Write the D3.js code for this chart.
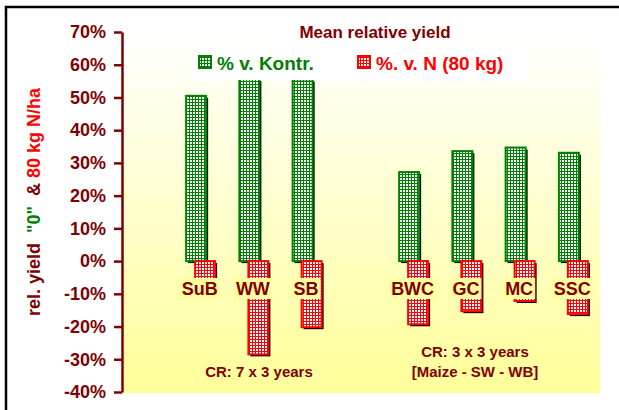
<!DOCTYPE html>
<html>
<head>
<meta charset="utf-8">
<script src="https://cdn.jsdelivr.net/npm/d3@7"></script>
<style>
  body { margin: 0; background: #fff; }
  svg text { font-family: "Liberation Sans", Arial, sans-serif; font-weight: bold; }
</style>
</head>
<body>
<div id="chart"></div>
<script>
// categories (blank slot separates the two crop rotations)
const categories = ["SuB", "WW", "SB", "", "BWC", "GC", "MC", "SSC"];
// % v. Kontr. (relative to unfertilised "0")
const vsControl = [50.5, 55.6, 55.5, null, 27.2, 33.6, 34.7, 33.1];
// %. v. N (80 kg)
const vsN = [-8, -28.5, -20.2, null, -19.3, -15.3, -12.2, -16.2];
const yTicks = [-40, -30, -20, -10, 0, 10, 20, 30, 40, 50, 60, 70];
const seriesNames = ["% v. Kontr.", "%. v. N (80 kg)"];

function drawChart(containerId)
{
    const width = 619;
    const height = 410;
    const plot = { left: 122, right: 600, top: 32, bottom: 393 };
    const maroon = '#800000', green = '#008000', red = '#ff0000';

    const svg = d3.select(containerId)
        .append('svg')
        .attr('width', width)
        .attr('height', height);

    const defs = svg.append('defs');

    // background gradient of the plot area
    const grad = defs.append('linearGradient')
        .attr('id', 'bg').attr('x1', 0).attr('y1', 0).attr('x2', 0).attr('y2', 1);
    grad.append('stop').attr('offset', '0%').attr('stop-color', '#ffffff');
    grad.append('stop').attr('offset', '100%').attr('stop-color', '#ffff99');

    // grid patterns for the bars
    function gridPattern(id, color, size) {
        const p = defs.append('pattern')
            .attr('id', id)
            .attr('patternUnits', 'userSpaceOnUse')
            .attr('width', size).attr('height', size);
        p.append('rect').attr('width', size).attr('height', size).attr('fill', '#fff');
        p.append('rect').attr('width', size).attr('height', 1).attr('fill', color);
        p.append('rect').attr('width', 1).attr('height', size).attr('fill', color);
    }
    gridPattern('gridGreen', green, 3);
    gridPattern('gridRed', red, 3);

    // outer frame
    svg.append('rect')
        .attr('x', 6).attr('y', 7)
        .attr('width', 640).attr('height', 420)
        .attr('fill', 'none').attr('stroke', '#000').attr('stroke-width', 2.5);

    svg.append('rect')
        .attr('x', plot.left).attr('y', plot.top)
        .attr('width', plot.right - plot.left).attr('height', plot.bottom - plot.top)
        .attr('fill', 'url(#bg)');

    // scales
    const x = d3.scaleBand()
        .domain(categories)
        .range([174, plot.right])
        .padding(0);

    const y = d3.scaleLinear()
        .domain([-40, 70])
        .range([392, 32]);

    const cx = c => x(c) + x.bandwidth() / 2;
    const barW = 20;

    const rows = categories.map((c, i) => ({ c, a: vsControl[i], b: vsN[i] }))
        .filter(d => d.c !== '');

    // shadows
    const shadow = svg.append('g').attr('fill', '#000');
    shadow.selectAll('rect.sg')
        .data(rows).enter().append('rect')
        .attr('x', d => cx(d.c) - 14.5 + 2)
        .attr('y', d => y(d.a) + 2)
        .attr('width', barW)
        .attr('height', d => y(0) - y(d.a));
    shadow.selectAll('rect.sr')
        .data(rows).enter().append('rect')
        .attr('x', d => cx(d.c) - 5.5 + 2)
        .attr('y', y(0) + 2)
        .attr('width', barW)
        .attr('height', d => y(d.b) - y(0));

    // green bars
    svg.append('g').selectAll('rect')
        .data(rows).enter().append('rect')
        .attr('x', d => cx(d.c) - 14.5)
        .attr('y', d => y(d.a))
        .attr('width', barW)
        .attr('height', d => y(0) - y(d.a))
        .attr('fill', 'url(#gridGreen)')
        .attr('stroke', green).attr('stroke-width', 2);

    // red bars
    svg.append('g').selectAll('rect')
        .data(rows).enter().append('rect')
        .attr('x', d => cx(d.c) - 5.5)
        .attr('y', y(0))
        .attr('width', barW)
        .attr('height', d => y(d.b) - y(0))
        .attr('fill', 'url(#gridRed)')
        .attr('stroke', red).attr('stroke-width', 2);

    // category labels with yellow boxes
    const labels = svg.append('g');
    rows.forEach(d => {
        const t = labels.append('text')
            .attr('x', cx(d.c) - 1)
            .attr('y', 295)
            .attr('text-anchor', 'middle')
            .attr('font-size', 18)
            .attr('fill', maroon)
            .text(d.c);
        const bb = t.node().getBBox();
        labels.insert('rect', 'text')
            .attr('x', bb.x - 2).attr('y', 278)
            .attr('width', bb.width + 4).attr('height', 21)
            .attr('fill', '#ffffa0');
    });

    // y axis
    const yAxis = d3.axisLeft(y)
        .tickValues(yTicks)
        .tickSize(8)
        .tickSizeOuter(0)
        .tickPadding(8)
        .tickFormat(d => d + '%');
    const ga = svg.append('g')
        .attr('transform', `translate(${plot.left}, 0)`)
        .call(yAxis);
    ga.select('.domain').attr('stroke', maroon).attr('stroke-width', 2.5);
    ga.selectAll('.tick line').attr('stroke', maroon).attr('stroke-width', 2.5);
    ga.selectAll('.tick text')
        .attr('fill', maroon)
        .attr('font-size', 18)
        .attr('font-family', '"Liberation Sans", Arial, sans-serif')
        .attr('font-weight', 'bold');

    // y axis title in three colours
    const yt = svg.append('text')
        .attr('transform', 'translate(40, 202) rotate(-90)')
        .attr('text-anchor', 'middle')
        .attr('font-size', 18)
        .attr('xml:space', 'preserve');
    yt.append('tspan').attr('fill', maroon).text('rel. yield  ');
    yt.append('tspan').attr('fill', green).text('"0"');
    yt.append('tspan').attr('fill', maroon).text('  & ');
    yt.append('tspan').attr('fill', red).text('80 kg N/ha');

    // title
    svg.append('text')
        .attr('x', 375).attr('y', 38)
        .attr('text-anchor', 'middle')
        .attr('font-size', 17)
        .attr('fill', maroon)
        .text('Mean relative yield');

    // legend
    svg.append('rect')
        .attr('x', 190).attr('y', 47).attr('width', 337).attr('height', 33)
        .attr('fill', '#fff');
    const legend = [
        { name: seriesNames[0], color: green, pat: 'gridGreen', x: 199 },
        { name: seriesNames[1], color: red, pat: 'gridRed', x: 358 }
    ];
    legend.forEach(l => {
        svg.append('rect')
            .attr('x', l.x).attr('y', 56).attr('width', 12).attr('height', 12)
            .attr('fill', `url(#${l.pat})`)
            .attr('stroke', l.color).attr('stroke-width', 2);
        svg.append('text')
            .attr('x', l.x + 18).attr('y', 70)
            .attr('font-size', 19)
            .attr('fill', l.color)
            .text(l.name);
    });

    // rotation notes
    const notes = [
        { text: 'CR: 7 x 3 years', x: 259, y: 377 },
        { text: 'CR: 3 x 3 years', x: 475, y: 357 },
        { text: '[Maize - SW - WB]', x: 475, y: 377 }
    ];
    svg.append('g').selectAll('text')
        .data(notes).enter().append('text')
        .attr('x', d => d.x).attr('y', d => d.y)
        .attr('text-anchor', 'middle')
        .attr('font-size', 15)
        .attr('fill', maroon)
        .text(d => d.text);
}

drawChart('#chart');
</script>
</body>
</html>
